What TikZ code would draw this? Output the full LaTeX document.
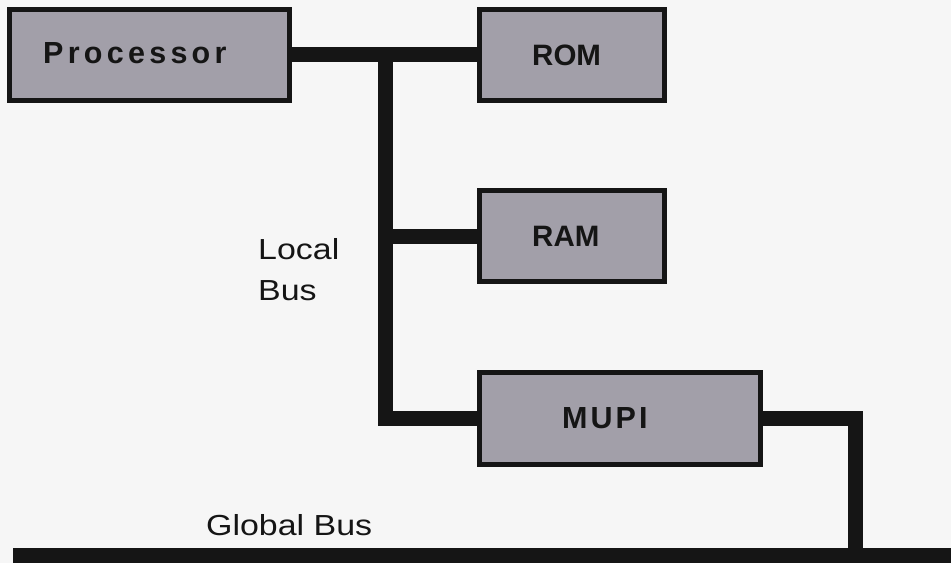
\documentclass[tikz,border=0pt]{standalone}
\usepackage{fontspec}
\setmainfont{Liberation Sans}
\newfontfamily\procfont[LetterSpace=14]{Liberation Sans}
\newfontfamily\mupifont[LetterSpace=10]{Liberation Sans}
\newfontfamily\widefont[FakeStretch=1.17]{Liberation Sans}
\definecolor{boxgray}{HTML}{A29FA9}
\definecolor{bg}{HTML}{F6F6F6}
\definecolor{ink}{HTML}{151515}
\tikzset{
  box/.style={draw=ink, line width=5pt, fill=boxgray, inner sep=0pt},
  bus/.style={draw=ink, line width=15pt},
  lbl/.style={inner sep=0pt, anchor=base west, text=ink},
  boxtxt/.style={lbl, font=\bfseries\fontsize{29.5}{34}\selectfont}
}
\begin{document}
\begin{tikzpicture}[x=1pt,y=-1pt]
\useasboundingbox (0,0) rectangle (951,563);
\fill[bg] (0,0) rectangle (951,563);
% boxes
\node[box, minimum width=280pt, minimum height=91.5pt] (proc) at (149.5,54.75) {};
\node[box, minimum width=185pt, minimum height=91.5pt] (rom) at (572,54.75) {};
\node[box, minimum width=185pt, minimum height=91pt] (ram) at (572,236) {};
\node[box, minimum width=281pt, minimum height=92pt] (mupi) at (620,418.5) {};
% bus joints
\coordinate (tj) at (385,54.75);
\coordinate (gbL) at (13,555.5);
\coordinate (gbR) at (951,555.5);
\coordinate (drop) at (855,555.5);
% connectors
\draw[bus] (proc.east) -- (rom.west);
\draw[bus, line join=miter] (tj) |- (mupi.west);
\draw[bus] (tj |- ram.west) -- (ram.west);
\draw[bus, line join=miter] (mupi.east) -| (drop);
\draw[bus] (gbL) -- (gbR);
% texts
\node[lbl, font=\procfont\bfseries\fontsize{30.5}{34}\selectfont] (procT) at (43,63) {Processor};
\node[boxtxt] (romT) at (532,65) {ROM};
\node[boxtxt] (ramT) at (532,246) {RAM};
\node[lbl, font=\mupifont\bfseries\fontsize{30.5}{34}\selectfont] (mupiT) at (562,428) {MUPI};
\node[inner sep=0pt, anchor=north west, align=left, text=ink, font=\widefont\fontsize{29}{41}\selectfont] (localT) at (258,238) {Local\\Bus};
\node[lbl, font=\widefont\fontsize{29}{34}\selectfont] (globalT) at (206,535) {Global Bus};
\end{tikzpicture}
\end{document}
